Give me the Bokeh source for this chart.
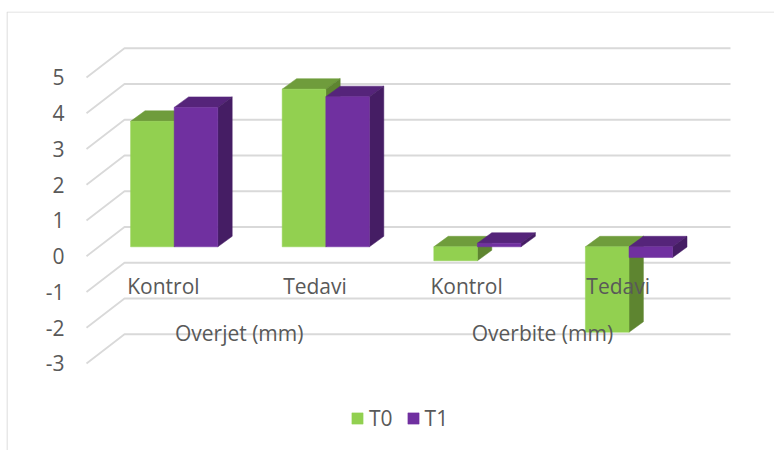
from bokeh.plotting import figure
from bokeh.models import Range1d, FixedTicker, Legend, LegendItem, BoxAnnotation
from bokeh.core.properties import value
from bokeh.embed import file_html
from bokeh.resources import INLINE

# ---- data ----
groups = ["Kontrol", "Tedavi", "Kontrol", "Tedavi"]
parents = ["Overjet (mm)", "Overbite (mm)"]
t0 = [3.51, 4.41, -0.39, -2.39]
t1 = [3.90, 4.20, 0.10, -0.30]
y_ticks = [-3, -2, -1, 0, 1, 2, 3, 4, 5]

# ---- style / layout constants (x: category units, y: value units) ----
FONT = "Open Sans"
FS = "21px"
TXT = "#595959"
GRID = "#d9d9d9"
T0_F, T0_T, T0_S = "#92d050", "#6f9c3c", "#5e8530"
T1_F, T1_T, T1_S = "#7030a0", "#55247a", "#451d64"
PX_X = 151.6
PX_Y = 35.75
W = 774
H = 450
LEFT = 6
TOP = 11
AXIS_X = 71
ZERO_X = 173.7            # canvas x of first category
ZERO_Y = 255.7            # canvas y of value 0 on front plane
BAR_W = 43.6 / PX_X
BAR_LIFT = 9.4 / PX_Y     # bars stand this far behind the front plane
DX = 14.4 / PX_X
DY = 10.5 / PX_Y
WALL_DX = 38 / PX_X
WALL_DY = 29.2 / PX_Y
GRID_X0 = (86 - ZERO_X) / PX_X
GRID_X1 = (730 - ZERO_X) / PX_X
LABEL_DX = -10.8 / PX_X
LABEL_Y1 = (ZERO_Y - 285.7) / PX_Y
LABEL_Y2 = (ZERO_Y - 332.3) / PX_Y

p = figure(width=W, height=H, output_backend="svg", toolbar_location=None,
           x_axis_location=None, y_axis_location="left",
           x_range=Range1d((LEFT - ZERO_X) / PX_X, (W - ZERO_X) / PX_X),
           y_range=Range1d((ZERO_Y - H) / PX_Y, (ZERO_Y - TOP) / PX_Y),
           min_border=0, min_border_left=LEFT, min_border_top=TOP,
           outline_line_color=None,
           background_fill_color="white", border_fill_color="white")
p.grid.visible = False

ax = p.yaxis[0]
ax.fixed_location = (AXIS_X - ZERO_X) / PX_X
ax.ticker = FixedTicker(ticks=y_ticks)
ax.major_label_overrides = {v: str(v) for v in y_ticks}
ax.axis_line_color = None
ax.major_tick_line_color = None
ax.minor_tick_line_color = None
ax.major_label_text_font = FONT
ax.major_label_text_font_size = FS
ax.major_label_text_color = TXT
ax.major_label_standoff = 1

# chart area border
p.add_layout(BoxAnnotation(left=6.5, right=W + 20, top=11.5, bottom=H + 20,
                           left_units="canvas", right_units="canvas",
                           top_units="canvas", bottom_units="canvas",
                           fill_color=None, line_color=GRID, line_alpha=1,
                           line_width=1.2, level="underlay"))

# gridlines: side wall + back wall
p.multi_line(xs=[[GRID_X0, GRID_X0 + WALL_DX, GRID_X1] for _ in y_ticks],
             ys=[[v, v + WALL_DY, v + WALL_DY] for v in y_ticks],
             line_color=GRID, line_width=1.8)


def bars(vals, off, front, top, side):
    xl = [i + off for i in range(len(vals))]
    xr = [x + BAR_W for x in xl]
    hi = [max(v, 0) + BAR_LIFT for v in vals]
    lo = [min(v, 0) + BAR_LIFT for v in vals]
    p.patches(xs=[[l, l + DX, r + DX, r] for l, r in zip(xl, xr)],
              ys=[[h, h + DY, h + DY, h] for h in hi],
              fill_color=top, line_color=top, line_width=0.5)
    p.patches(xs=[[r, r + DX, r + DX, r] for r in xr],
              ys=[[l, l + DY, h + DY, h] for l, h in zip(lo, hi)],
              fill_color=side, line_color=side, line_width=0.5)
    return p.quad(left=xl, right=xr, top=hi, bottom=lo,
                  fill_color=front, line_color=front, line_width=0.5)


r0 = bars(t0, -BAR_W, T0_F, T0_T, T0_S)
r1 = bars(t1, 0, T1_F, T1_T, T1_S)

# category labels
p.text(x=[i + LABEL_DX for i in range(len(groups))], y=[LABEL_Y1] * len(groups), text=groups,
       text_font=value(FONT), text_font_size=FS, text_color=TXT,
       text_align="center", text_baseline="middle")
p.text(x=[0.5 + LABEL_DX, 2.5 + LABEL_DX], y=[LABEL_Y2] * 2, text=parents,
       text_font=value(FONT), text_font_size=FS, text_color=TXT,
       text_align="center", text_baseline="middle")

legend = Legend(items=[LegendItem(label="T0", renderers=[r0]),
                       LegendItem(label="T1", renderers=[r1])],
                location=(350 - LEFT, 18), orientation="horizontal",
                glyph_width=14, glyph_height=14, label_standoff=5, spacing=13,
                padding=0, margin=0, border_line_color=None,
                background_fill_alpha=0,
                label_text_font=FONT, label_text_font_size=FS,
                label_text_color=TXT, label_height=14)
p.add_layout(legend)

open("out.html", "w").write(file_html(p, INLINE))
